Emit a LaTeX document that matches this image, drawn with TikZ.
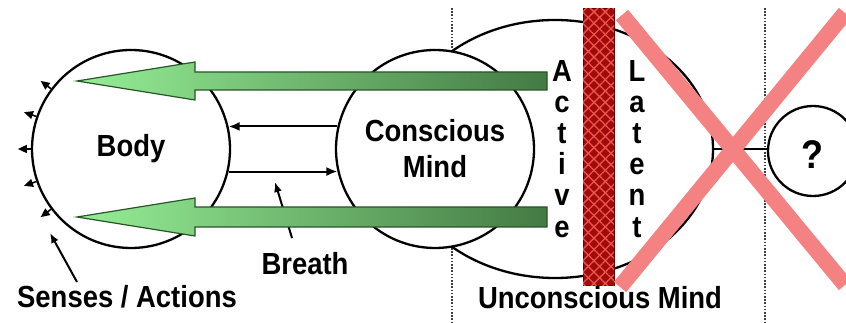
\documentclass[tikz,border=0pt]{standalone}
\usepackage{fontspec}
\setmainfont{Liberation Sans}[FakeStretch=0.9]
\usetikzlibrary{arrows.meta,shapes.geometric,patterns.meta,calc}
\definecolor{lgreen}{RGB}{150,238,150}
\definecolor{dgreen}{RGB}{68,122,68}
\definecolor{gedge}{RGB}{40,85,40}
\definecolor{barred}{RGB}{160,10,10}
\definecolor{meshred}{RGB}{235,85,75}
\definecolor{xpink}{RGB}{244,130,130}
\definecolor{dotgray}{RGB}{60,60,60}
\begin{document}
\begin{tikzpicture}[x=1pt,y=-1pt,
  lbl/.style={font=\fontsize{30.5}{36}\selectfont\bfseries, inner sep=0pt, align=center},
  ring/.style={circle, draw=black, line width=2.3pt, fill=white, inner sep=0pt, minimum size=198pt},
  dotline/.style={draw=dotgray, line width=2.2pt, dash pattern=on 1.6pt off 1.6pt},
  garrow/.style={draw=gedge, line width=1.2pt, left color=lgreen, right color=dgreen},
  thinarrow/.style={line width=2pt, -{Latex[length=11pt,width=9pt]}},
  tick/.style={line width=1.6pt, -{Triangle[length=9pt,width=8pt]}},
  xleg/.style={draw=xpink, line width=16pt}]
\useasboundingbox (0,0) rectangle (846,323);
\fill[white] (0,0) rectangle (846,323);
% dotted separators
\coordinate (d1t) at (452,8); \coordinate (d1b) at (452,323);
\coordinate (d2t) at (765,8); \coordinate (d2b) at (765,323);
\draw[dotline] (d1t) -- (d1b);
\draw[dotline] (d2t) -- (d2b);
% unconscious ellipse
\node[ellipse, draw=black, line width=2.3pt, fill=white, inner sep=0pt,
      minimum width=316pt, minimum height=258pt] (unc) at (555,149) {};
% circles
\node[ring, lbl] (body) at (131,149) {Body};
\node[ring, lbl] (cm) at (435,149) {Conscious\\Mind};
% red barrier
\node[draw=black!60!red, line width=1pt, fill=barred, inner sep=0pt,
      minimum width=31pt, minimum height=276pt,
      postaction={pattern={Lines[angle=45,distance=8pt,line width=1.3pt]}, pattern color=meshred},
      postaction={pattern={Lines[angle=-45,distance=8pt,line width=1.3pt]}, pattern color=meshred}]
      (bar) at (598.5,147) {};
% Breath pointer (behind green arrow)
\node[lbl] (breath) at (305,264) {Breath};
\coordinate (brs) at (292,238);
\coordinate (bre) at (275,182);
\draw[line width=2pt, -{Latex[length=10pt,width=8pt]}] (brs) -- (bre);
% green arrows
\path[garrow] (77,81) -- (195,62) -- (195,72) -- (547,72) -- (547,90) -- (195,90) -- (195,100) -- cycle;
\path[garrow] (77,217) -- (195,198) -- (195,207) -- (547,207) -- (547,227) -- (195,227) -- (195,236) -- cycle;
% thin arrows between body and conscious mind
\draw[thinarrow] (cm.167) -- (body.13);
\draw[thinarrow] (body.-13) -- (cm.193);
% senses / actions ticks
\foreach \a in {143,161,180,199,217}
  \draw[tick] (body.\a) -- ($(body.\a)+(\a:13pt)$);
\node[lbl] (senses) at (127,297) {Senses / Actions};
\coordinate (sps) at (77,282);
\coordinate (spe) at (50,233);
\draw[line width=2pt, -{Latex[length=10pt,width=8pt]}] (sps) -- (spe);
% ? circle and connector
\node[circle, draw=black, line width=2.3pt, fill=white, inner sep=0pt, minimum size=90pt] (q) at (813,151) {};
\node[font=\fontsize{40}{40}\selectfont\bfseries, inner sep=0pt] (qm) at (812,155) {?};
\draw[line width=2.2pt] (unc.east) -- (unc.east -| q.west);
% Active / Latent
\foreach \l [count=\i] in {A,c,t,i,v,e}
  \node[lbl, anchor=base] (act\i) at (562, 51+31*\i) {\l};
\foreach \l [count=\i] in {L,a,t,e,n,t}
  \node[lbl, anchor=base] (lat\i) at (637, 51+31*\i) {\l};
% cross
\coordinate (x1a) at (622,15); \coordinate (x1b) at (845,285);
\coordinate (x2a) at (845,13); \coordinate (x2b) at (620,287);
\draw[xleg] (x1a) -- (x1b);
\draw[xleg] (x2a) -- (x2b);
% bottom label
\node[lbl] (uncl) at (600,298) {Unconscious Mind};
\end{tikzpicture}
\end{document}
